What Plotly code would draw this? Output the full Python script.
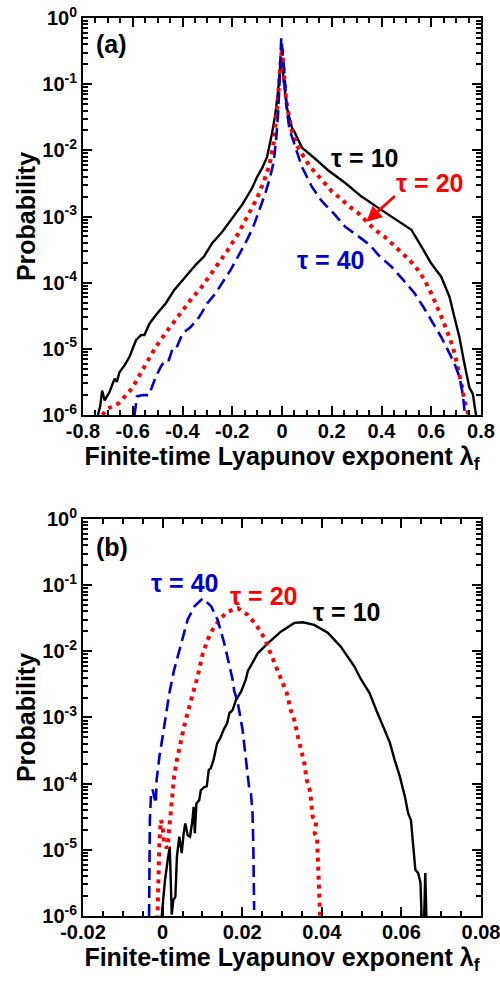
import plotly.graph_objects as go

# ---------------- Panel (a) data ----------------
a_x_t10 = [-0.740, -0.731, -0.723, -0.713, -0.693, -0.673, -0.664, -0.653, -0.633, -0.613,
           -0.587, -0.566, -0.553, -0.533, -0.507, -0.467, -0.433, -0.400, -0.347, -0.313,
           -0.280, -0.240, -0.200, -0.160, -0.120, -0.100, -0.080, -0.060, -0.040, -0.027,
           -0.016, -0.011, -0.005, 0.000, 0.007, 0.020, 0.040, 0.050, 0.080, 0.125,
           0.185, 0.253, 0.320, 0.387, 0.453, 0.520, 0.560, 0.600, 0.640, 0.673,
           0.693, 0.713, 0.733, 0.753, 0.767, 0.780]
a_p_t10 = [1.0e-6, 1.35e-6, 2.34e-6, 1.66e-6, 2.24e-6, 3.55e-6, 3.16e-6, 4.47e-6, 5.62e-6, 7.59e-6,
           1.35e-5, 1.62e-5, 1.62e-5, 2.40e-5, 3.24e-5, 4.90e-5, 7.76e-5, 1.10e-4, 1.86e-4, 2.51e-4,
           3.98e-4, 5.89e-4, 9.33e-4, 1.51e-3, 2.69e-3, 3.98e-3, 5.37e-3, 7.94e-3, 1.82e-2, 3.47e-2,
           7.76e-2, 0.138, 0.224, 0.24, 0.110, 4.37e-2, 2.19e-2, 1.91e-2, 1.10e-2, 7.94e-3,
           5.01e-3, 3.24e-3, 2.00e-3, 1.35e-3, 9.33e-4, 6.31e-4, 3.55e-4, 1.95e-4, 1.23e-4, 6.17e-5,
           3.02e-5, 1.51e-5, 6.03e-6, 2.63e-6, 2.09e-6, 1.0e-6]

a_x_t20 = [-0.722, -0.700, -0.686, -0.656, -0.627, -0.600, -0.567, -0.536, -0.507, -0.464,
           -0.416, -0.367, -0.320, -0.267, -0.222, -0.176, -0.140, -0.100, -0.073, -0.050,
           -0.033, -0.024, -0.016, -0.010, 0.000, 0.009, 0.017, 0.027, 0.040, 0.060,
           0.087, 0.113, 0.140, 0.200, 0.233, 0.267, 0.307, 0.340, 0.373, 0.411,
           0.447, 0.480, 0.513, 0.547, 0.573, 0.600, 0.624, 0.647, 0.667, 0.687,
           0.700, 0.713, 0.724, 0.733, 0.740, 0.750]
a_p_t20 = [1.0e-6, 1.26e-6, 1.32e-6, 1.51e-6, 2.00e-6, 2.63e-6, 4.37e-6, 7.08e-6, 1.07e-5, 1.82e-5,
           3.24e-5, 5.50e-5, 8.91e-5, 1.66e-4, 2.95e-4, 5.50e-4, 1.00e-3, 1.91e-3, 3.39e-3, 6.03e-3,
           1.32e-2, 2.75e-2, 6.17e-2, 0.138, 0.355, 0.123, 5.50e-2, 3.47e-2, 1.95e-2, 1.17e-2,
           7.94e-3, 5.62e-3, 4.37e-3, 2.40e-3, 1.91e-3, 1.45e-3, 1.12e-3, 8.32e-4, 6.31e-4, 5.01e-4,
           3.72e-4, 2.95e-4, 2.19e-4, 1.55e-4, 1.10e-4, 6.92e-5, 4.37e-5, 2.69e-5, 1.70e-5, 1.07e-5,
           6.76e-6, 4.27e-6, 2.63e-6, 1.66e-6, 1.26e-6, 1.0e-6]

a_x_t40 = [-0.593, -0.583, -0.560, -0.535, -0.507, -0.487, -0.470, -0.455, -0.440, -0.425,
           -0.400, -0.367, -0.333, -0.313, -0.300, -0.267, -0.240, -0.207, -0.173, -0.140,
           -0.113, -0.087, -0.067, -0.047, -0.033, -0.024, -0.016, -0.011, -0.007, -0.003,
           0.007, 0.013, 0.020, 0.030, 0.053, 0.080, 0.120, 0.160, 0.207, 0.253,
           0.307, 0.353, 0.387, 0.440, 0.487, 0.533, 0.567, 0.600, 0.640, 0.667,
           0.693, 0.713, 0.724, 0.731, 0.735]
a_p_t40 = [1.0e-6, 1.91e-6, 2.00e-6, 2.00e-6, 3.80e-6, 5.37e-6, 6.76e-6, 6.76e-6, 1.00e-5, 1.02e-5,
           1.70e-5, 2.14e-5, 3.02e-5, 4.07e-5, 4.90e-5, 6.92e-5, 9.77e-5, 1.55e-4, 2.63e-4, 4.47e-4,
           7.41e-4, 1.35e-3, 2.24e-3, 4.07e-3, 6.76e-3, 1.41e-2, 3.47e-2, 8.71e-2, 0.195, 0.50,
           0.195, 8.71e-2, 3.89e-2, 2.09e-2, 1.10e-2, 5.62e-3, 2.82e-3, 1.70e-3, 1.12e-3, 7.08e-4,
           5.01e-4, 3.72e-4, 2.63e-4, 1.74e-4, 1.10e-4, 6.92e-5, 4.37e-5, 2.69e-5, 1.51e-5, 9.55e-6,
           6.03e-6, 3.80e-6, 2.34e-6, 1.48e-6, 1.0e-6]

# ---------------- Panel (b) data ----------------
b_x_t10 = [-0.0003, 0.0006, 0.0013, 0.0018, 0.0023, 0.0027, 0.0032, 0.0036, 0.0042, 0.0048,
           0.0053, 0.0057, 0.0063, 0.0069, 0.0075, 0.0078, 0.0081, 0.0085, 0.0092, 0.0096,
           0.0105, 0.0111, 0.0116, 0.0121, 0.0128, 0.0137, 0.0145, 0.0153, 0.0162, 0.0168,
           0.0176, 0.0184, 0.0197, 0.0209, 0.0214, 0.0239, 0.0264, 0.0298, 0.0331, 0.0352,
           0.0381, 0.0415, 0.0448, 0.0482, 0.0499, 0.0520, 0.0537, 0.0558, 0.0571, 0.0583,
           0.0596, 0.0609, 0.0617, 0.0624, 0.0629, 0.0635, 0.0642, 0.0648, 0.0651, 0.0657,
           0.0660, 0.0663]
b_p_t10 = [8.9e-7, 3.47e-6, 7.08e-6, 1.12e-5, 1.05e-6, 1.74e-6, 1.95e-6, 7.94e-6, 1.58e-5, 8.91e-6,
           1.78e-5, 2.51e-5, 1.66e-5, 1.58e-5, 2.82e-5, 4.47e-5, 1.78e-5, 5.01e-5, 5.62e-5, 7.94e-5,
           8.91e-5, 9.12e-5, 1.62e-4, 1.70e-4, 2.29e-4, 4.07e-4, 4.90e-4, 6.46e-4, 8.13e-4, 1.17e-3,
           1.29e-3, 1.82e-3, 2.45e-3, 3.72e-3, 5.01e-3, 9.33e-3, 1.32e-2, 2.00e-2, 2.69e-2, 2.75e-2,
           2.51e-2, 1.91e-2, 1.17e-2, 5.89e-3, 3.72e-3, 2.34e-3, 1.29e-3, 6.17e-4, 4.17e-4, 2.29e-4,
           1.29e-4, 6.31e-5, 3.55e-5, 2.82e-5, 1.12e-5, 5.01e-6, 4.47e-6, 3.16e-6, 8.9e-7, 8.9e-7,
           4.47e-6, 8.9e-7]

b_x_t20 = [-0.0013, -0.0011, -0.0008, -0.0004, 0.0000, 0.0004, 0.0011, 0.0014, 0.0019, 0.0025,
           0.0029, 0.0036, 0.0044, 0.0052, 0.0060, 0.0067, 0.0077, 0.0088, 0.0101, 0.0113,
           0.0126, 0.0143, 0.0163, 0.0189, 0.0214, 0.0235, 0.0256, 0.0272, 0.0289, 0.0301,
           0.0312, 0.0322, 0.0331, 0.0340, 0.0346, 0.0352, 0.0356, 0.0362, 0.0370, 0.0373,
           0.0377, 0.0386, 0.0382, 0.0388, 0.0389, 0.0391, 0.0393, 0.0394, 0.0396]
b_p_t20 = [8.9e-7, 3.47e-6, 1.41e-5, 2.82e-5, 2.24e-5, 1.26e-5, 1.05e-5, 1.41e-5, 2.82e-5, 6.31e-5,
           1.29e-4, 2.29e-4, 4.07e-4, 6.46e-4, 1.02e-3, 1.45e-3, 2.34e-3, 4.17e-3, 9.33e-3, 1.48e-2,
           2.14e-2, 3.02e-2, 3.98e-2, 4.47e-2, 3.55e-2, 2.51e-2, 1.58e-2, 9.33e-3, 5.25e-3, 3.31e-3,
           2.34e-3, 1.29e-3, 9.12e-4, 5.13e-4, 3.63e-4, 2.88e-4, 2.04e-4, 1.15e-4, 7.94e-5, 5.62e-5,
           3.16e-5, 2.63e-5, 1.78e-5, 1.58e-5, 1.12e-5, 6.31e-6, 3.47e-6, 1.95e-6, 8.9e-7]

b_x_t40 = [-0.0034, -0.0032, -0.0029, -0.0025, -0.0021, -0.0017, -0.0015, -0.0008, 0.0000, 0.0008,
           0.0017, 0.0029, 0.0046, 0.0063, 0.0080, 0.0101, 0.0122, 0.0138, 0.0155, 0.0168,
           0.0176, 0.0180, 0.0189, 0.0201, 0.0209, 0.0215, 0.0218, 0.0222, 0.0226, 0.0228,
           0.0229, 0.0230]
b_p_t40 = [1.0e-6, 2.82e-5, 7.08e-5, 8.13e-5, 6.31e-5, 5.01e-5, 1.15e-4, 2.57e-4, 5.13e-4, 1.02e-3,
           2.34e-3, 5.25e-3, 1.32e-2, 3.02e-2, 4.79e-2, 6.31e-2, 4.79e-2, 3.02e-2, 1.32e-2, 5.89e-3,
           3.72e-3, 2.51e-3, 1.66e-3, 6.46e-4, 2.57e-4, 1.15e-4, 8.13e-5, 7.08e-5, 3.55e-5, 1.12e-5,
           3.47e-6, 1.23e-6]

# ---------------- ticks / labels ----------------
y_tickvals = [1e-6, 1e-5, 1e-4, 1e-3, 1e-2, 1e-1, 1e0]
y_ticktext = ["10<sup>-6</sup>", "10<sup>-5</sup>", "10<sup>-4</sup>", "10<sup>-3</sup>",
              "10<sup>-2</sup>", "10<sup>-1</sup>", "10<sup>0</sup>"]
y_minor = [m * 10.0 ** e for e in range(-6, 0) for m in range(2, 10)]
a_xtickvals = [-0.8, -0.6, -0.4, -0.2, 0.0, 0.2, 0.4, 0.6, 0.8]
a_xticktext = ["-0.8", "-0.6", "-0.4", "-0.2", "0", "0.2", "0.4", "0.6", "0.8"]
b_xtickvals = [-0.02, 0.0, 0.02, 0.04, 0.06, 0.08]
b_xticktext = ["-0.02", "0", "0.02", "0.04", "0.06", "0.08"]

x_title = "Finite-time Lyapunov exponent λ<sub>f</sub>"
y_title = "Probability"
labels = ["τ = 10", "τ = 20", "τ = 40"]
colors = ["#000000", "#ff0000", "#0000cc"]

FONT = "Liberation Sans, Arial, sans-serif"

fig = go.Figure()

def add_lines(xs, ys, xa, ya):
    styles = [dict(color=colors[0], width=2.4),
              dict(color=colors[1], width=4, dash="4px,5px"),
              dict(color=colors[2], width=2.6, dash="12px,6px")]
    for x, y, st, name in zip(xs, ys, styles, labels):
        fig.add_trace(go.Scatter(x=x, y=y, mode="lines", line=st, name=name,
                                 xaxis=xa, yaxis=ya, showlegend=False))

add_lines([a_x_t10, a_x_t20, a_x_t40], [a_p_t10, a_p_t20, a_p_t40], "x", "y")
add_lines([b_x_t10, b_x_t20, b_x_t40], [b_p_t10, b_p_t20, b_p_t40], "x2", "y2")

tickfont = dict(family=FONT, size=20, color="black", weight="bold")
titlefont = dict(family=FONT, size=25, color="black", weight="bold")

def xaxis(rng, tv, tt, anchor, mdt):
    return dict(range=rng, tickmode="array", tickvals=tv, ticktext=tt,
                ticks="inside", ticklen=9, tickwidth=2, tickcolor="black",
                showline=True, linewidth=2, linecolor="black", mirror="allticks",
                showgrid=False, zeroline=False, tickfont=tickfont,
                ticklabelstandoff=-3, automargin=False, ticklabeloverflow="allow",
                minor=dict(ticks="inside", ticklen=5, tickwidth=1.5, tickcolor="black",
                           dtick=mdt, tick0=0, showgrid=False),
                title=dict(text=x_title, font=titlefont, standoff=0),
                anchor=anchor)

def yaxis(domain, anchor):
    return dict(type="log", range=[-6, 0], domain=domain, tickmode="array",
                tickvals=y_tickvals, ticktext=y_ticktext,
                ticks="inside", ticklen=9, tickwidth=2, tickcolor="black",
                showline=True, linewidth=2, linecolor="black", mirror="allticks",
                showgrid=False, zeroline=False, tickfont=tickfont, automargin=False,
                ticklabeloverflow="allow",
                minor=dict(ticks="inside", ticklen=5, tickwidth=1.5, tickcolor="black",
                           tickmode="array", tickvals=y_minor, showgrid=False),
                title=dict(text=y_title, font=titlefont, standoff=0),
                anchor=anchor)

fig.update_layout(
    width=500, height=984,
    margin=dict(l=83, r=19, t=18, b=68, autoexpand=False),
    paper_bgcolor="white", plot_bgcolor="white",
    xaxis=xaxis([-0.8, 0.8], a_xtickvals, a_xticktext, "y", 0.05),
    yaxis=yaxis([0.5579, 1.0], "x"),
    xaxis2=xaxis([-0.02, 0.08], b_xtickvals, b_xticktext, "y2", 0.005),
    yaxis2=yaxis([0.0, 0.4421], "x2"),
)

annfont = lambda c: dict(family=FONT, size=25, color=c, weight="bold")
anns = [
    dict(x=-0.755, y=-0.40, xref="x", yref="y", text="(a)", showarrow=False,
         xanchor="left", font=annfont("black")),
    dict(x=0.33, y=-2.11, xref="x", yref="y", text=labels[0], showarrow=False,
         font=annfont(colors[0])),
    dict(x=0.594, y=-2.49, xref="x", yref="y", text=labels[1], showarrow=False,
         font=annfont(colors[1])),
    dict(x=0.195, y=-3.66, xref="x", yref="y", text=labels[2], showarrow=False,
         font=annfont(colors[2])),
    dict(x=0.339, y=-3.08, ax=0.46, ay=-2.67, xref="x", yref="y", axref="x", ayref="y",
         text="", showarrow=True, arrowhead=2, arrowsize=1.1, arrowwidth=2.8,
         arrowcolor=colors[1]),
    dict(x=-0.0173, y=-0.42, xref="x2", yref="y2", text="(b)", showarrow=False,
         xanchor="left", font=annfont("black")),
    dict(x=0.0461, y=-1.41, xref="x2", yref="y2", text=labels[0], showarrow=False,
         font=annfont(colors[0])),
    dict(x=0.0253, y=-1.17, xref="x2", yref="y2", text=labels[1], showarrow=False,
         font=annfont(colors[1])),
    dict(x=0.0056, y=-0.97, xref="x2", yref="y2", text=labels[2], showarrow=False,
         font=annfont(colors[2])),
]
fig.update_layout(annotations=anns)

fig.write_html("out.html", config={"displayModeBar": False},
               post_script="document.body.style.margin='0';document.body.style.overflow='hidden';")
